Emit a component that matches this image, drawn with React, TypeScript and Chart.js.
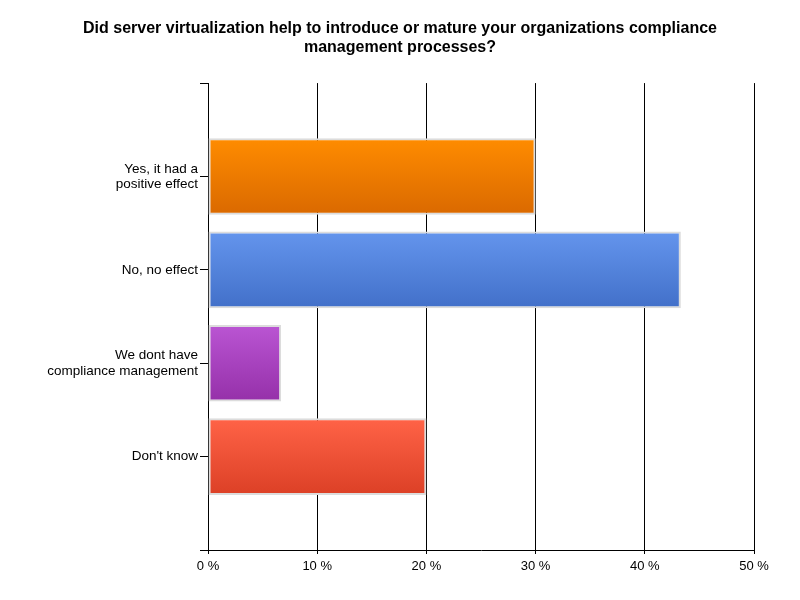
import { useEffect, useRef } from "react";
import { Chart, registerables } from "chart.js";

Chart.register(...registerables);

// survey answers, padded with empty slots so the bars sit one step in from the plot edges
const categories: (string | string[])[] = [
  "",
  ["Yes, it had a", "positive effect"],
  "No, no effect",
  ["We dont have", "compliance management"],
  "Don't know",
  "",
];
const shares: (number | null)[] = [null, 30, 43.3, 6.7, 20, null];
const topColors = ["#fff", "#ff8c00", "#6495ed", "#ba55d3", "#ff6347", "#fff"];
const bottomColors = ["#fff", "#da6900", "#4270c9", "#9530a9", "#dc4026", "#fff"];

const BAR_PCT = 0.82;
const FONT = "'Liberation Sans', Arial, sans-serif";

export default function App() {
  const chartRef = useRef<HTMLCanvasElement>(null);
  const chartInstance = useRef<Chart | null>(null);

  useEffect(() => {
    if (!chartRef.current) return;
    const ctx = chartRef.current.getContext("2d");
    if (!ctx) return;

    if (chartInstance.current) {
      chartInstance.current.destroy();
    }

    const fill = (c: any) => {
      const i = c.dataIndex;
      const top = topColors[i] || "#fff";
      const y = c.chart.scales && c.chart.scales.y;
      if (!y || c.type !== "data") return top;
      const center = y.getPixelForValue(i);
      const half = ((y.height / (categories.length - 1)) * BAR_PCT) / 2;
      if (!isFinite(center) || !isFinite(half) || half <= 0) return top;
      const g = c.chart.ctx.createLinearGradient(0, center - half, 0, center + half);
      g.addColorStop(0, top);
      g.addColorStop(1, bottomColors[i] || top);
      return g;
    };

    chartInstance.current = new Chart(ctx, {
      type: "bar",
      data: {
        labels: categories,
        datasets: [
          {
            data: shares,
            backgroundColor: fill,
            borderColor: "#dcdcdc",
            borderWidth: 2,
            borderSkipped: false,
            barPercentage: BAR_PCT,
            categoryPercentage: 1,
          },
        ],
      },
      options: {
        indexAxis: "y",
        responsive: true,
        maintainAspectRatio: false,
        animation: false,
        layout: { padding: { left: 46, right: 46, top: 0, bottom: 0 } },
        plugins: {
          legend: { display: false },
          tooltip: { enabled: false },
          title: {
            display: true,
            text: [
              "Did server virtualization help to introduce or mature your organizations compliance",
              "management processes?",
            ],
            color: "#000",
            font: { family: FONT, size: 16, weight: "bold", lineHeight: 1.19 },
            padding: { top: 19, bottom: 26 },
          },
        },
        scales: {
          x: {
            min: 0,
            max: 50,
            ticks: {
              stepSize: 10,
              color: "#000",
              padding: 5,
              font: { family: FONT, size: 13 },
              callback: (v: any) => v + " %",
            },
            grid: { color: "#000", lineWidth: 1, tickLength: 4, drawTicks: true },
            border: { color: "#000" },
            afterFit: (s: any) => {
              s.height = 50;
            },
          },
          y: {
            offset: false,
            ticks: {
              color: "#000",
              padding: 2,
              autoSkip: false,
              font: { family: FONT, size: 13.5, lineHeight: 1.12 },
            },
            grid: { offset: false, drawOnChartArea: false, color: "#000", tickLength: 8 },
            border: { color: "#000" },
            afterFit: (s: any) => {
              s.width = 162;
            },
          },
        },
      },
    });

    return () => {
      if (chartInstance.current) {
        chartInstance.current.destroy();
        chartInstance.current = null;
      }
    };
  }, []);

  return (
    <div style={{ position: "absolute", left: 0, top: 0, width: 800, height: 600, background: "#fff" }}>
      <canvas ref={chartRef}></canvas>
    </div>
  );
}
